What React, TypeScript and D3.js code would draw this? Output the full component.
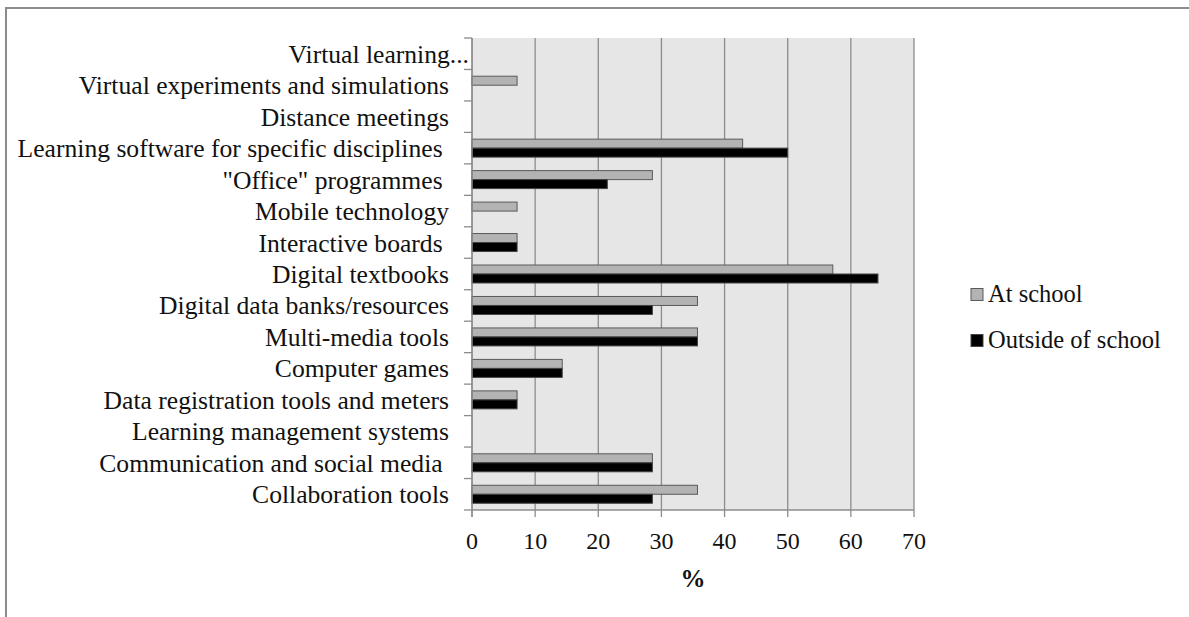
import React, { useEffect } from 'react';
import * as d3 from 'd3';

// categories listed top to bottom, as in the picture
const categories = [
  'Virtual learning...',
  'Virtual experiments and simulations',
  'Distance meetings',
  'Learning software for specific disciplines ',
  '"Office" programmes ',
  'Mobile technology',
  'Interactive boards ',
  'Digital textbooks',
  'Digital data banks/resources',
  'Multi-media tools',
  'Computer games',
  'Data registration tools and meters',
  'Learning management systems',
  'Communication and social media ',
  'Collaboration tools',
];

const atSchool = [0, 7.14, 0, 42.86, 28.57, 7.14, 7.14, 57.14, 35.71, 35.71, 14.29, 7.14, 0, 28.57, 35.71];
const outsideSchool = [0, 0, 0, 50, 21.43, 0, 7.14, 64.29, 28.57, 35.71, 14.29, 7.14, 0, 28.57, 28.57];

const xTicks = [0, 10, 20, 30, 40, 50, 60, 70];
const seriesNames = ['At school', 'Outside of school'];
const seriesFill = ['#b3b3b3', '#000000'];
const seriesStroke = ['#5a5a5a', '#444444'];

const W = 1189;
const H = 617;
const FONT = '"Liberation Serif", serif';
const TEXT = '#111';

export default function App() {
  useEffect(() => {
    document.body.style.margin = '0';
  }, []);

  const x = d3.scaleLinear().domain([0, 70]).range([472, 914]);
  const y = d3.scaleBand<string>().domain(categories).range([38, 510]).paddingInner(0).paddingOuter(0);
  const inner = d3.scaleBand<string>().domain(['school', 'outside']).range([0, y.bandwidth()]).paddingInner(0).paddingOuter(0.75);
  const [top, bottom] = y.range();
  const boundaries = categories.map(c => y(c)!).concat([bottom]);

  return (
    <svg width={W} height={H} style={{ display: 'block' }} fontFamily={FONT}>
      <rect x={0} y={0} width={W} height={H} fill="#fff" />
      {/* outer chart frame, runs off the right and bottom edges */}
      <rect x={6} y={8} width={W + 20} height={H + 20} fill="none" stroke="#8c8c8c" strokeWidth={2} />

      {/* plot area */}
      <rect x={x(0)} y={top} width={x(70) - x(0)} height={bottom - top} fill="#e6e6e6" />
      {xTicks.map(t => (
        <line key={'g' + t} x1={x(t)} x2={x(t)} y1={top} y2={bottom + 7} stroke="#8c8c8c" strokeWidth={1.3} />
      ))}
      <line x1={x(0)} x2={x(70)} y1={bottom} y2={bottom} stroke="#8c8c8c" strokeWidth={1.3} />
      {boundaries.map((b, i) => (
        <line key={'t' + i} x1={x(0) - 8} x2={x(0)} y1={b} y2={b} stroke="#8c8c8c" strokeWidth={1.3} />
      ))}

      {/* bars */}
      {categories.map((c, i) => (
        <g key={c} transform={`translate(0,${y(c)})`}>
          {atSchool[i] > 0 && (
            <rect x={x(0)} y={inner('school')} width={x(atSchool[i]) - x(0)} height={inner.bandwidth()}
              fill={seriesFill[0]} stroke={seriesStroke[0]} strokeWidth={1} />
          )}
          {outsideSchool[i] > 0 && (
            <rect x={x(0)} y={inner('outside')} width={x(outsideSchool[i]) - x(0)} height={inner.bandwidth()}
              fill={seriesFill[1]} stroke={seriesStroke[1]} strokeWidth={1} />
          )}
        </g>
      ))}
      <line x1={x(0)} x2={x(0)} y1={top} y2={bottom + 7} stroke="#8c8c8c" strokeWidth={1.3} />

      {/* category labels */}
      {categories.map((c, i) => (
        <text key={'l' + c} x={i === 0 ? 469 : 449} y={y(c)! + y.bandwidth() / 2 + 9}
          textAnchor="end" fontSize={25.6} fill={TEXT} style={{ whiteSpace: 'pre' }}>
          {c}
        </text>
      ))}

      {/* x tick labels */}
      {xTicks.map(t => (
        <text key={'x' + t} x={x(t)} y={549} textAnchor="middle" fontSize={24} fill={TEXT}>
          {t}
        </text>
      ))}
      <text x={(x(0) + x(70)) / 2} y={587} textAnchor="middle" fontSize={25} fontWeight="bold" fill={TEXT}>
        %
      </text>

      {/* legend */}
      {seriesNames.map((s, i) => (
        <g key={s} transform={`translate(971,${288.5 + i * 46})`}>
          <rect x={0} y={0} width={12} height={12} fill={seriesFill[i]} stroke={seriesStroke[i]} strokeWidth={1} />
          <text x={17} y={13} fontSize={24.5} fill={TEXT}>{s}</text>
        </g>
      ))}
    </svg>
  );
}
